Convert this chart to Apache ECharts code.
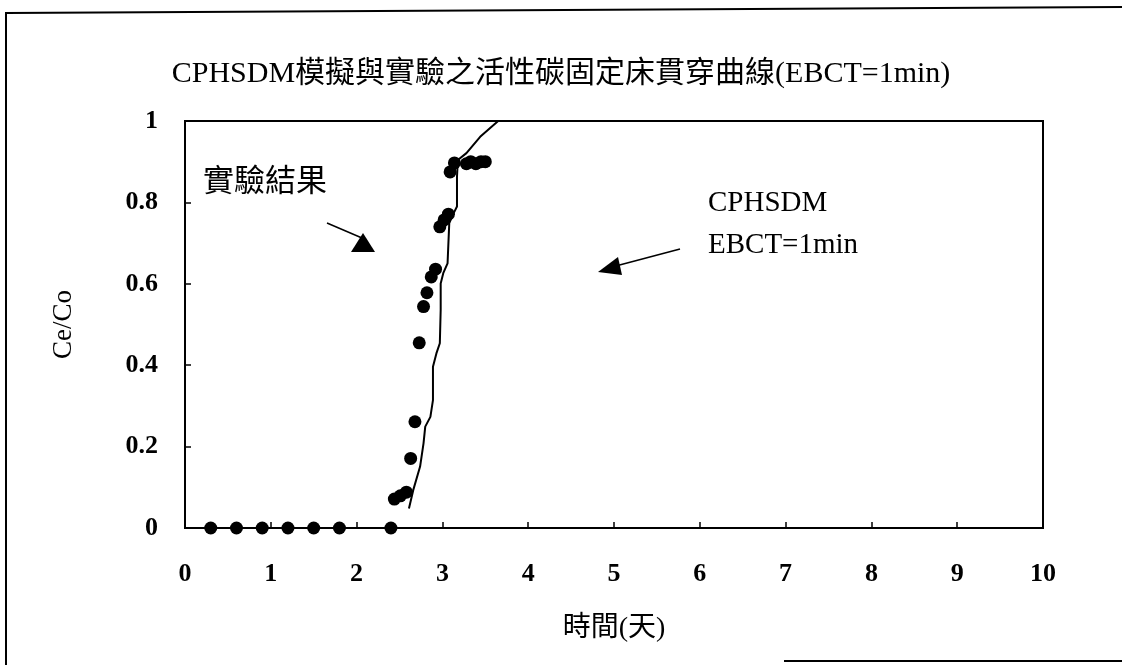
<!DOCTYPE html>
<html>
<head>
<meta charset="utf-8">
<script src="https://cdn.jsdelivr.net/npm/echarts@6/dist/echarts.min.js"></script>
<style>
  html, body { margin: 0; padding: 0; background: #fff; }
  #chart { width: 1122px; height: 665px; }
</style>
</head>
<body>
<div id="chart"></div>
<script>
// Experimental breakthrough points: time (days) and Ce/Co
const expDays = [0.3, 0.6, 0.9, 1.2, 1.5, 1.8, 2.4, 2.44, 2.51, 2.58, 2.63, 2.68, 2.73, 2.78, 2.82, 2.87, 2.92, 2.97, 3.02, 3.07, 3.09, 3.14, 3.28, 3.33, 3.39, 3.45, 3.50];
const expCeCo = [0, 0, 0, 0, 0, 0, 0, 0.071, 0.079, 0.088, 0.171, 0.261, 0.455, 0.544, 0.578, 0.617, 0.636, 0.74, 0.757, 0.771, 0.875, 0.897, 0.895, 0.9, 0.895, 0.9, 0.9];

// CPHSDM model curve (EBCT = 1 min)
const modelDays = [2.61, 2.66, 2.74, 2.78, 2.80, 2.86, 2.89, 2.89, 2.93, 2.97, 2.98, 2.98, 3.01, 3.06, 3.07, 3.08, 3.13, 3.17, 3.17, 3.18, 3.28, 3.44, 3.65];
const modelCeCo = [0.048, 0.093, 0.151, 0.208, 0.249, 0.273, 0.314, 0.396, 0.429, 0.454, 0.536, 0.601, 0.626, 0.65, 0.70, 0.749, 0.773, 0.79, 0.863, 0.904, 0.921, 0.961, 1.0];

const titleText = 'CPHSDM模擬與實驗之活性碳固定床貫穿曲線(EBCT=1min)';
const xName = '時間(天)';
const yName = 'Ce/Co';
const expLabel = '實驗結果';
const modelLabel = ['CPHSDM', 'EBCT=1min'];

const serifCJK = "'Liberation Serif', 'Noto Sans CJK TC', serif";

const chart = echarts.init(document.getElementById('chart'), null, { renderer: 'canvas' });

const expData = expDays.map((d, i) => [d, expCeCo[i]]);
const modelData = modelDays.map((d, i) => [d, modelCeCo[i]]);

chart.setOption({
  backgroundColor: '#fff',
  animation: false,
  title: {
    text: titleText,
    left: 'center',
    top: 59,
    padding: 0,
    textStyle: { fontFamily: serifCJK, fontSize: 30, fontWeight: 'normal', color: '#000' }
  },
  grid: {
    left: 185, right: 79, top: 121, bottom: 137,
    show: true, borderColor: '#000', borderWidth: 2, backgroundColor: 'transparent'
  },
  xAxis: {
    type: 'value', min: 0, max: 10, interval: 1,
    name: xName, nameLocation: 'middle', nameGap: 87,
    nameTextStyle: { fontFamily: serifCJK, fontSize: 28, color: '#000' },
    axisLine: { lineStyle: { color: '#000', width: 2 } },
    axisTick: { inside: true, length: 6, lineStyle: { color: '#000', width: 1.5 } },
    axisLabel: { margin: 33, fontFamily: serifCJK, fontSize: 26, fontWeight: 'bold', color: '#000' },
    splitLine: { show: false }
  },
  yAxis: {
    type: 'value', min: 0, max: 1, interval: 0.2,
    name: yName, nameLocation: 'middle', nameGap: 108,
    nameTextStyle: { fontFamily: serifCJK, fontSize: 27, color: '#000' },
    axisLine: { lineStyle: { color: '#000', width: 2 } },
    axisTick: { inside: true, length: 6, lineStyle: { color: '#000', width: 1.5 } },
    axisLabel: { margin: 27, fontFamily: serifCJK, fontSize: 26, fontWeight: 'bold', color: '#000' },
    splitLine: { show: false }
  },
  series: [
    {
      name: 'model', type: 'line', data: modelData,
      showSymbol: false, smooth: false,
      lineStyle: { color: '#000', width: 2 }
    },
    {
      name: 'experiment', type: 'scatter', data: expData,
      symbol: 'circle', symbolSize: 13, clip: false,
      itemStyle: { color: '#000', opacity: 1 }
    }
  ],
  graphic: [
    // outer frame of the figure
    { type: 'polyline', shape: { points: [[6, 665], [6, 13], [1122, 7]] }, style: { stroke: '#000', lineWidth: 2, fill: null } },
    { type: 'line', shape: { x1: 784, y1: 661, x2: 1122, y2: 661 }, style: { stroke: '#000', lineWidth: 2 } },
    // experiment annotation
    { type: 'text', left: 203, top: 164, style: { text: expLabel, font: "31px 'Noto Sans CJK TC'", fill: '#000' } },
    { type: 'line', shape: { x1: 327, y1: 223, x2: 362, y2: 238 }, style: { stroke: '#000', lineWidth: 1.5 } },
    { type: 'polygon', shape: { points: [[363, 233], [375, 252], [351, 252]] }, style: { fill: '#000' } },
    // model annotation
    { type: 'text', left: 708, top: 189, style: { text: modelLabel[0], font: "29px 'Liberation Serif'", fill: '#000' } },
    { type: 'text', left: 708, top: 231, style: { text: modelLabel[1], font: "29px 'Liberation Serif'", fill: '#000' } },
    { type: 'line', shape: { x1: 680, y1: 249, x2: 612, y2: 267 }, style: { stroke: '#000', lineWidth: 1.5 } },
    { type: 'polygon', shape: { points: [[598, 272], [618, 257], [622, 275]] }, style: { fill: '#000' } }
  ]
});
</script>
</body>
</html>
